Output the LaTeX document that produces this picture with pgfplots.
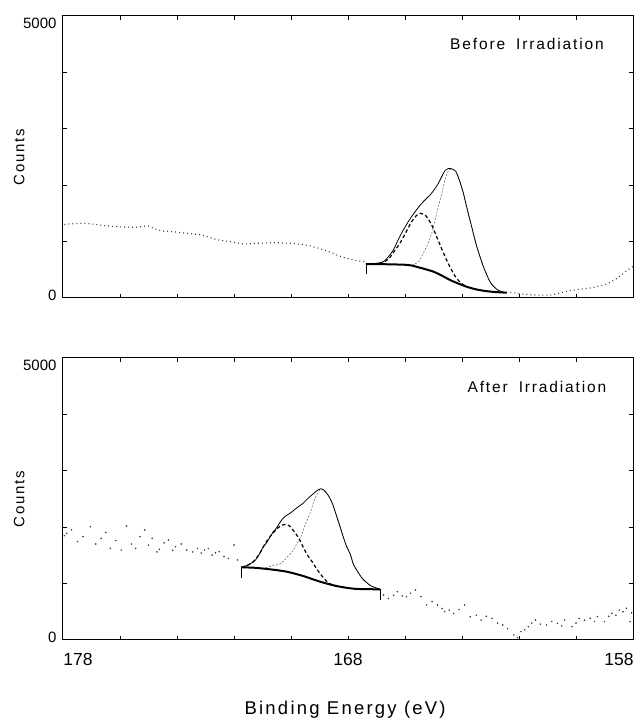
\documentclass[border=0pt]{standalone}
\usepackage{fontspec}
\setmainfont{Liberation Sans}
\newfontfamily\lsfont[LetterSpace=12]{Liberation Sans}
\usepackage{pgfplots}
\pgfplotsset{compat=1.18}

\pgfplotsset{
  xpspanel/.style={
    width=570bp, height=282.3bp, scale only axis,
    x dir=reverse, xmin=158, xmax=178, ymin=0, ymax=5000,
    axis line style={line width=1bp},
    tick align=inside,
    tick style={black, line width=0.7bp},
    major tick length=0pt, minor tick length=4bp,
    ytick={50,4870}, yticklabels={0,5000},
    minor ytick={1000,2000,3000,4000},
    xtick={177.47,168,158.49},
    minor xtick={160,162,...,176},
    /pgf/number format/assume math mode=true,
    yticklabel style={font=\fontsize{15bp}{15bp}\selectfont, xshift=-3bp},
    xticklabel style={font=\fontsize{17.5bp}{17.5bp}\selectfont, yshift=-10bp},
    ylabel={Counts},
    every axis y label/.style={at={(axis description cs:-0.077,0.5)}, rotate=90, anchor=center,
      font=\lsfont\fontsize{15bp}{15bp}\selectfont},
    clip=false,
  },
  rawdots/.style={gray!45!black, line width=1.1bp, dash pattern=on 1bp off 3bp},
  envelope/.style={black, line width=0.8bp, smooth},
  backgr/.style={black, line width=2bp, smooth},
  compA/.style={black, line width=1.2bp, dash pattern=on 3.5bp off 2.5bp, smooth},
  compB/.style={gray!70!black, line width=0.5bp, dash pattern=on 2bp off 1.5bp, smooth},
  endtick/.style={black, line width=0.8bp},
}

\begin{document}
\begin{tikzpicture}
\useasboundingbox (0,0) rectangle (637bp,722bp);

% ---- before irradiation ----
\begin{axis}[xpspanel, at={(63bp,424bp)}, anchor=south west, xticklabels={}]
\addplot[rawdots, smooth] coordinates {
(177.95,1300) (177.81,1311) (177.5,1318) (177.23,1322) (176.9,1305) (176.72,1293)
(176.4,1275) (176.09,1263) (175.75,1255) (175.45,1252) (175.2,1268) (175.0,1275)
(174.8,1230) (174.56,1192) (174.17,1175) (173.9,1160) (173.66,1145) (173.4,1132)
(173.15,1116) (172.9,1080) (172.64,1039) (172.4,1015) (172.13,998) (171.9,975)
(171.62,957) (171.24,968) (170.9,975) (170.6,980) (170.3,975) (169.96,968)
(169.6,945) (169.33,921) (169.1,890) (168.82,850) (168.55,795) (168.31,744)
(168.05,705) (167.8,673) (167.6,655) (167.41,644)};
\addplot[rawdots, smooth] coordinates {
(162.3,100) (162.06,85) (161.8,65) (161.42,53) (161.1,50) (160.9,53) (160.65,75)
(160.4,112) (160.15,135) (159.89,153) (159.6,170) (159.38,189) (159.1,220)
(158.87,260) (158.65,320) (158.48,378) (158.3,450) (158.1,526) (158.0,560)};
\addplot[compB] coordinates {
(166.0,575) (165.7,590) (165.5,660) (165.36,791) (165.2,960) (165.06,1145)
(164.95,1370) (164.83,1617) (164.7,1870) (164.6,2090) (164.5,2230) (164.42,2280)
(164.3,2270) (164.21,2230) (164.08,2065) (163.95,1850) (163.84,1617) (163.72,1380)
(163.6,1140) (163.48,908) (163.36,720) (163.25,554) (163.13,410) (163.02,289)
(162.9,210) (162.78,154) (162.6,110) (162.43,94)};
\addplot[compA] coordinates {
(166.9,605) (166.6,680) (166.4,810) (166.18,968) (165.97,1160) (165.77,1350)
(165.6,1460) (165.47,1500) (165.35,1485) (165.24,1440) (165.06,1290) (164.89,1086)
(164.72,880) (164.54,673) (164.36,490) (164.19,349) (164.0,250) (163.84,205)};
\addplot[envelope] coordinates {
(167.37,602) (167.0,615) (166.76,643) (166.6,720) (166.41,850) (166.25,1020)
(166.06,1204) (165.9,1340) (165.77,1440) (165.6,1560) (165.41,1677) (165.25,1760)
(165.12,1824) (164.97,1920) (164.83,2031) (164.7,2160) (164.6,2255) (164.5,2290)
(164.42,2297) (164.32,2280) (164.21,2237) (164.08,2070) (163.95,1854) (163.84,1620)
(163.72,1381) (163.6,1140) (163.48,909) (163.36,720) (163.25,554) (163.13,410)
(163.02,289) (162.9,210) (162.78,154) (162.6,110) (162.43,94)};
\addplot[backgr] coordinates {
(167.37,602) (167.0,600) (166.5,596) (165.88,584) (165.5,540) (165.0,466)
(164.7,395) (164.42,319) (164.1,250) (163.84,200) (163.55,158) (163.25,129)
(162.9,108) (162.43,94)};
\addplot[endtick] coordinates {(167.37,602) (167.37,425)};
\node[font=\lsfont\fontsize{15.5bp}{15.5bp}\selectfont] at (axis cs:161.72,4498)
  {Before\hspace{11bp}Irradiation};
\end{axis}

% ---- after irradiation ----
\begin{axis}[xpspanel, at={(63bp,82bp)}, anchor=south west,
  xticklabels={178,168,158},
  xlabel={Binding Energy (eV)},
  every axis x label/.style={at={(axis description cs:0.495,-0.248)}, anchor=center,
    font=\lsfont\fontsize{18.5bp}{18.5bp}\selectfont}]
\addplot[only marks, mark=*, mark size=0.55bp, gray!45!black] coordinates {
(177.95,1850) (177.87,1889) (177.7,1950) (177.49,1742) (177.3,1830) (177.04,2007)
(176.85,1700) (176.66,1800) (176.5,1905) (176.34,1623) (176.15,1760) (175.96,1594)
(175.77,2019) (175.6,1700) (175.45,1623) (175.3,1830) (175.13,1948) (175.0,1680)
(174.87,1800) (174.7,1560) (174.62,1605) (174.45,1720) (174.3,1771) (174.15,1590)
(174.05,1653) (173.85,1700) (173.66,1594) (173.45,1560) (173.28,1623) (173.15,1540)
(173.03,1594) (172.9,1620) (172.77,1505) (172.65,1545) (172.52,1564) (172.35,1480)
(172.2,1446) (172.0,1682) (171.88,1417) (171.73,1300)
(166.75,800) (166.58,737) (166.4,790) (166.27,856) (166.1,780) (165.95,767)
(165.8,830) (165.63,885) (165.44,767) (165.24,620) (165.05,680) (164.86,620)
(164.7,560) (164.61,502) (164.45,530) (164.29,472) (164.1,540) (163.91,620)
(163.71,413) (163.5,440) (163.33,354) (163.15,420) (162.95,384) (162.75,300)
(162.57,266) (162.4,200) (162.18,89) (162.05,40) (161.93,148) (161.8,180)
(161.67,236) (161.55,300) (161.42,354) (161.25,280) (161.04,266) (160.85,330)
(160.65,295) (160.5,250) (160.4,354) (160.14,236) (160.0,300) (159.89,384)
(159.7,350) (159.5,384) (159.35,330) (159.25,413) (159.0,325) (158.85,420)
(158.74,472) (158.6,440) (158.48,531) (158.35,500) (158.23,561) (158.1,325)
(158.05,480)};
\addplot[compB] coordinates {
(171.0,1260) (170.86,1287) (170.6,1320) (170.35,1357) (170.15,1460) (169.96,1564)
(169.8,1700) (169.65,1830) (169.5,2050) (169.33,2243) (169.2,2450) (169.07,2598)
(168.97,2660) (168.88,2660) (168.69,2560) (168.55,2420) (168.43,2243) (168.28,2010)
(168.15,1800) (168.05,1660) (167.92,1520) (167.81,1340) (167.67,1220) (167.5,1090)
(167.35,1020) (167.2,960) (167.03,925) (166.88,898)};
\addplot[compA] coordinates {
(171.73,1287) (171.5,1330) (171.32,1387) (171.1,1530) (170.97,1652) (170.8,1790)
(170.62,1900) (170.45,1990) (170.3,2035) (170.19,2049) (170.05,2020) (169.95,1960)
(169.84,1889) (169.7,1780) (169.58,1653) (169.43,1510) (169.26,1387) (169.1,1260)
(168.94,1151) (168.75,1040) (168.56,974) (168.4,950)};
\addplot[envelope] coordinates {
(171.73,1287) (171.5,1330) (171.32,1387) (171.24,1420) (171.1,1530) (170.97,1652)
(170.86,1720) (170.62,1918) (170.54,1960) (170.33,2125) (170.22,2184) (170.04,2244)
(169.96,2273) (169.8,2340) (169.58,2420) (169.4,2510) (169.2,2598) (169.05,2660)
(168.95,2680) (168.85,2660) (168.69,2560) (168.55,2420) (168.43,2243) (168.28,2010)
(168.15,1800) (168.05,1660) (167.92,1520) (167.81,1340) (167.67,1220) (167.5,1090)
(167.35,1020) (167.2,960) (167.03,925) (166.88,898)};
\addplot[backgr] coordinates {
(171.73,1287) (171.3,1280) (170.74,1252) (170.15,1210) (169.57,1133) (168.98,1033)
(168.4,956) (167.81,909) (167.3,900) (166.88,898)};
\addplot[endtick] coordinates {(171.73,1287) (171.73,1092)};
\addplot[endtick] coordinates {(166.88,898) (166.88,708)};
\node[font=\lsfont\fontsize{15.5bp}{15.5bp}\selectfont] at (axis cs:161.37,4480)
  {After\hspace{11bp}Irradiation};
\end{axis}
\end{tikzpicture}
\end{document}
